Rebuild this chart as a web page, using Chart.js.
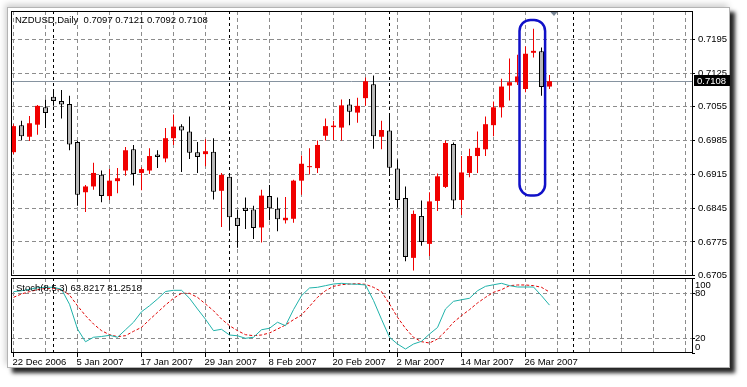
<!DOCTYPE html>
<html>
<head>
<meta charset="utf-8">
<script src="https://cdn.jsdelivr.net/npm/chart.js@4.4.1/dist/chart.umd.min.js"></script>
<style>
html,body{margin:0;padding:0;background:#fff;}
#wrap{position:relative;width:747px;height:387px;overflow:hidden;background:#fff;}
#frame{position:absolute;left:7px;top:7px;width:723px;height:361px;background:#fff;border:1px solid #b4b4b4;box-sizing:border-box;
  box-shadow:5px 5px 4px rgba(0,0,0,.85),-2px -3px 6px rgba(0,0,0,.18);}
canvas{position:absolute;left:0;top:0;}
</style>
</head>
<body>
<div id="wrap">
  <div id="frame"></div>
  <canvas id="price" width="747" height="387"></canvas>
  <canvas id="stoch" width="747" height="387"></canvas>
</div>
<script>
// bars, 22 Dec 2006 .. 29 Mar 2007
const dates = [
  "22 Dec 2006","26 Dec 2006","27 Dec 2006","28 Dec 2006","29 Dec 2006",
  "2 Jan 2007","3 Jan 2007","4 Jan 2007","5 Jan 2007","8 Jan 2007","9 Jan 2007","10 Jan 2007","11 Jan 2007","12 Jan 2007",
  "15 Jan 2007","16 Jan 2007","17 Jan 2007","18 Jan 2007","19 Jan 2007","22 Jan 2007","23 Jan 2007","24 Jan 2007","25 Jan 2007",
  "26 Jan 2007","29 Jan 2007","30 Jan 2007","31 Jan 2007",
  "1 Feb 2007","2 Feb 2007","5 Feb 2007","6 Feb 2007","7 Feb 2007","8 Feb 2007","9 Feb 2007","12 Feb 2007","13 Feb 2007",
  "14 Feb 2007","15 Feb 2007","16 Feb 2007","19 Feb 2007","20 Feb 2007","21 Feb 2007","22 Feb 2007","23 Feb 2007","26 Feb 2007",
  "27 Feb 2007","28 Feb 2007",
  "1 Mar 2007","2 Mar 2007","5 Mar 2007","6 Mar 2007","7 Mar 2007","8 Mar 2007","9 Mar 2007","12 Mar 2007","13 Mar 2007",
  "14 Mar 2007","15 Mar 2007","16 Mar 2007","19 Mar 2007","20 Mar 2007","21 Mar 2007","22 Mar 2007","23 Mar 2007","26 Mar 2007",
  "27 Mar 2007","28 Mar 2007","29 Mar 2007"
];

const open = [
  0.6961,0.7017,0.6993,0.7018,0.7054,0.7076,0.7067,0.7061,0.6982,0.6878,
  0.6890,0.6914,0.6870,0.6901,0.6923,0.6967,0.6918,0.6923,0.6956,0.6948,
  0.6990,0.7015,0.7004,0.6961,0.6957,0.6962,0.6881,0.6910,0.6825,0.6846,
  0.6842,0.6805,0.6870,0.6844,0.6820,0.6823,0.6902,0.6930,0.6928,0.6995,
  0.7013,0.7012,0.7060,0.7043,0.7073,0.7102,0.6993,0.7006,0.6927,0.6866,
  0.6742,0.6829,0.6771,0.6860,0.6889,0.6978,0.6862,0.6918,0.6953,0.6967,
  0.7017,0.7054,0.7099,0.7106,0.7092,0.7167,0.7170,0.7097
];
const high = [
  0.7019,0.7026,0.7036,0.7059,0.7070,0.7090,0.7090,0.7078,0.6984,0.6893,
  0.6939,0.6923,0.6926,0.6928,0.6972,0.6976,0.6930,0.6969,0.6965,0.7011,
  0.7039,0.7019,0.7035,0.6982,0.6988,0.6990,0.6918,0.6911,0.6841,0.6867,
  0.6850,0.6883,0.6893,0.6867,0.6868,0.6904,0.6954,0.6969,0.6985,0.7031,
  0.7026,0.7070,0.7071,0.7074,0.7116,0.7120,0.7026,0.7040,0.6946,0.6890,
  0.6840,0.6861,0.6878,0.6917,0.6985,0.6981,0.6953,0.6968,0.7004,0.7035,
  0.7066,0.7113,0.7155,0.7163,0.7180,0.7217,0.7178,0.7121
];
const low = [
  0.6957,0.6986,0.6984,0.6997,0.7011,0.7057,0.7031,0.6965,0.6850,0.6837,
  0.6883,0.6857,0.6862,0.6876,0.6912,0.6892,0.6882,0.6916,0.6928,0.6940,
  0.6976,0.6920,0.6947,0.6918,0.6932,0.6863,0.6806,0.6798,0.6763,0.6802,
  0.6781,0.6774,0.6820,0.6797,0.6813,0.6815,0.6873,0.6915,0.6918,0.6985,
  0.6986,0.6985,0.7017,0.7022,0.7057,0.6968,0.6967,0.6918,0.6846,0.6735,
  0.6716,0.6767,0.6746,0.6839,0.6887,0.6843,0.6831,0.6909,0.6918,0.6953,
  0.6994,0.7033,0.7068,0.7100,0.7085,0.7157,0.7078,0.7092
];
const close = [
  0.7015,0.6994,0.7021,0.7057,0.7042,0.7067,0.7060,0.6977,0.6873,0.6890,
  0.6918,0.6870,0.6902,0.6907,0.6965,0.6916,0.6926,0.6953,0.6951,0.6990,
  0.7014,0.7006,0.6960,0.6951,0.6963,0.6879,0.6914,0.6826,0.6808,0.6839,
  0.6804,0.6871,0.6845,0.6822,0.6825,0.6902,0.6937,0.6932,0.6976,0.7015,
  0.7016,0.7058,0.7045,0.7057,0.7108,0.6994,0.7007,0.6929,0.6862,0.6744,
  0.6833,0.6775,0.6859,0.6911,0.6980,0.6861,0.6919,0.6953,0.6970,0.7019,
  0.7054,0.7097,0.7106,0.7118,0.7165,0.7171,0.7096,0.7108
];

// Stochastic (8,5,3): main line and signal
const stochK = [
  81.8,83.0,85.0,87.0,87.6,87.6,85.0,65.0,32.0,15.0,
  21.0,22.0,23.6,21.0,31.0,41.0,55.0,63.0,72.0,82.0,
  83.6,83.6,73.0,58.7,45.0,29.8,31.6,24.0,23.0,19.6,
  21.0,31.0,33.0,41.0,36.4,57.8,76.4,86.7,87.6,89.8,
  92.0,92.9,92.0,91.6,90.7,70.0,45.0,21.0,12.0,5.3,
  12.0,15.6,25.3,34.0,58.7,68.9,71.0,73.0,83.0,88.9,
  91.0,92.9,89.8,88.0,88.0,88.0,76.4,63.8217
];
const stochD = [
  74.2,78.7,81.8,84.4,86.2,86.2,84.4,77.3,63.0,49.8,
  38.7,29.8,24.4,21.8,23.1,28.9,34.2,44.4,54.2,64.0,
  72.9,79.6,79.6,74.2,65.3,56.4,45.3,36.4,29.8,24.4,
  23.1,24.0,26.7,32.0,37.3,44.4,50.7,62.2,74.2,83.1,
  88.9,91.1,92.0,92.4,91.6,87.6,81.8,65.3,47.6,32.9,
  20.9,15.1,13.3,18.7,28.9,40.9,49.8,57.8,66.7,74.2,
  80.9,84.4,89.8,90.7,90.7,89.8,87.6,81.2518
];

const priceTicks = [0.6705,0.6775,0.6845,0.6915,0.6985,0.7055,0.7125,0.7195];
const stochTicks = [0,20,80,100];
const monthStarts = [5,27,47,70];
const symbol = "NZDUSD,Daily";
const stochName = "Stoch(8,5,3)";

const n = close.length;
const last = n - 1;
const xMin = -0.3125, xMax = 84.8125;
const fontFamily = '"Liberation Sans", Arial, sans-serif';
const font = "9.5px " + fontFamily;
const gridColor = "#8c8c8c";

function xGrid(scale){
  const t = [];
  for (let v = 0; v <= xMax; v += 4) t.push({value:v});
  scale.ticks = t;
}

const panelPlugin = {
  id:"panel",
  beforeDatasetsDraw(chart, args, opts){
    const {ctx, chartArea:a, scales} = chart;
    ctx.save();
    ctx.strokeStyle = "#000";
    ctx.lineWidth = 1;
    ctx.setLineDash([3,3]);
    monthStarts.forEach(i => {
      const x = Math.floor(scales.x.getPixelForValue(i)) + 0.5;
      ctx.beginPath(); ctx.moveTo(x, a.top); ctx.lineTo(x, a.bottom); ctx.stroke();
    });
    if (opts.main){
      const y = Math.round(scales.y.getPixelForValue(close[last])) + 0.5;
      ctx.setLineDash([]);
      ctx.strokeStyle = "#8693a0";
      ctx.beginPath(); ctx.moveTo(a.left, y); ctx.lineTo(a.right, y); ctx.stroke();
    }
    ctx.restore();
  },
  afterDraw(chart, args, opts){
    const {ctx, chartArea:a, scales} = chart;
    ctx.save();
    ctx.setLineDash([]);
    ctx.font = font;
    ctx.textBaseline = "middle";
    ctx.textAlign = "left";
    if (opts.main){
      // highlight around the last three sessions
      const x0 = scales.x.getPixelForValue(63.25), x1 = scales.x.getPixelForValue(66.45);
      const y0 = scales.y.getPixelForValue(0.7235), y1 = scales.y.getPixelForValue(0.6871);
      ctx.strokeStyle = "#1010c8";
      ctx.lineWidth = 2.5;
      ctx.beginPath(); ctx.roundRect(x0, y0, x1 - x0, y1 - y0, 11); ctx.stroke();
      // chart shift marker
      const sx = scales.x.getPixelForValue(last + 0.56);
      ctx.fillStyle = "#7a8796";
      ctx.beginPath(); ctx.moveTo(sx - 4.5, a.top); ctx.lineTo(sx + 4.5, a.top); ctx.lineTo(sx, a.top + 5); ctx.closePath(); ctx.fill();
      // title
      ctx.fillStyle = "#000";
      const fmt = v => v.toFixed(4);
      ctx.fillText(symbol + "  " + [open[last], high[last], low[last], close[last]].map(fmt).join(" "), a.left + 4, a.top + 9);
      // last price box
      const py = Math.round(scales.y.getPixelForValue(close[last]));
      ctx.fillStyle = "#000";
      ctx.fillRect(a.right + 2, py - 6, 36, 11);
      ctx.fillStyle = "#fff";
      ctx.fillText(fmt(close[last]), a.right + 5, py);
    } else {
      ctx.fillStyle = "#000";
      stochTicks.forEach(v => {
        let y = scales.y.getPixelForValue(v);
        y = Math.min(Math.max(y, a.top + 7), a.bottom - 6);
        ctx.fillText(String(v), a.right + 3, y);
      });
      ctx.fillText(stochName + " " + stochK[last].toFixed(4) + " " + stochD[last].toFixed(4), a.left + 5, a.top + 10.5);
    }
    ctx.strokeStyle = "#000";
    ctx.lineWidth = 1;
    ctx.strokeRect(a.left + 0.5, a.top + 0.5, a.right - a.left, a.bottom - a.top - 1);
    ctx.restore();
  }
};

const bull = close.map((c, i) => c >= open[i]);
const bodyColor = bull.map(b => b ? "#f00000" : "#b8b8b8");
const bodyBorder = bull.map(b => b ? "#f00000" : "#000");
const bodyWidth = bull.map(b => b ? 0 : 1);
const wickColor = bull.map(b => b ? "#f00000" : "#000");

new Chart(document.getElementById("price"), {
  type:"bar",
  data:{
    datasets:[
      {
        data: close.map((c, i) => ({x:i, y:[open[i], c]})),
        order:0, grouped:false, barThickness:5, minBarLength:1, inflateAmount:0,
        backgroundColor: bodyColor, borderColor: bodyBorder, borderWidth: bodyWidth, borderSkipped:false
      },
      {
        data: close.map((c, i) => ({x:i, y:[low[i], high[i]]})),
        order:1, grouped:false, barThickness:1, inflateAmount:0,
        backgroundColor: wickColor, borderWidth:0
      }
    ]
  },
  options:{
    responsive:false, animation:false, events:[],
    layout:{padding:{left:11, top:11, right:0, bottom:111}},
    plugins:{legend:{display:false}, tooltip:{enabled:false}, panel:{main:true}},
    scales:{
      x:{
        type:"linear", min:xMin, max:xMax, offset:false,
        afterBuildTicks: xGrid,
        afterFit(s){ s.height = 0; },
        ticks:{display:false},
        grid:{color:gridColor, drawTicks:false, offset:false, borderDash:[4,3]},
        border:{display:false, dash:[4,3]}
      },
      y:{
        position:"right", min:0.67044, max:0.72536,
        afterBuildTicks(s){ s.ticks = priceTicks.map(v => ({value:v})); },
        afterFit(s){ s.width = 55; },
        ticks:{callback:v => v.toFixed(4), color:"#000", padding:3, font:{family:fontFamily, size:9.5}},
        grid:{color:gridColor, tickLength:3, tickColor:"#000", borderDash:[4,3]},
        border:{display:false, dash:[4,3]}
      }
    }
  },
  plugins:[panelPlugin]
});

new Chart(document.getElementById("stoch"), {
  type:"line",
  data:{
    datasets:[
      {data: stochK.map((v, i) => ({x:i, y:v})), borderColor:"#20b2aa", borderWidth:1, pointRadius:0, tension:0},
      {data: stochD.map((v, i) => ({x:i, y:v})), borderColor:"#e00000", borderWidth:1, borderDash:[3,2], pointRadius:0, tension:0}
    ]
  },
  options:{
    responsive:false, animation:false, events:[],
    layout:{padding:{left:11, top:278, right:0, bottom:0}},
    plugins:{legend:{display:false}, tooltip:{enabled:false}, panel:{main:false}},
    scales:{
      x:{
        type:"linear", min:xMin, max:xMax, offset:false,
        afterBuildTicks: xGrid,
        afterFit(s){ s.height = 34; },
        ticks:{
          autoSkip:false, maxRotation:0, minRotation:0, align:"start", labelOffset:-1, padding:0,
          color:"#000", font:{family:fontFamily, size:9.5},
          callback:v => (v % 8 === 0 && v < n) ? dates[v] : ""
        },
        grid:{
          color:gridColor, tickLength:4, borderDash:[4,3],
          tickColor: c => (c.tick && c.tick.value % 8 === 0 && c.tick.value < n) ? "#000" : "rgba(0,0,0,0)"
        },
        border:{display:false, dash:[4,3]}
      },
      y:{
        position:"right", min:0, max:100,
        afterBuildTicks(s){ s.ticks = stochTicks.map(v => ({value:v})); },
        afterFit(s){ s.width = 55; },
        ticks:{display:false},
        grid:{
          tickLength:3, tickColor:"#000", borderDash:[4,3],
          color: c => (c.tick && (c.tick.value === 20 || c.tick.value === 80)) ? gridColor : "rgba(0,0,0,0)"
        },
        border:{display:false, dash:[4,3]}
      }
    }
  },
  plugins:[panelPlugin]
});
</script>
</body>
</html>
